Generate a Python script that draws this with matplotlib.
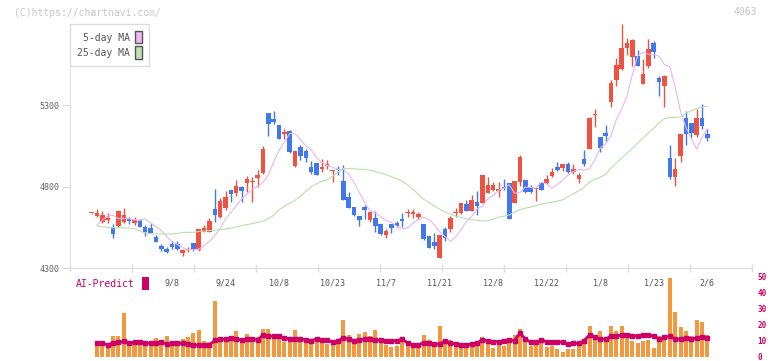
import matplotlib
matplotlib.use("Agg")
import matplotlib.pyplot as plt
from matplotlib.patches import Patch
import numpy as np

# daily candles, oldest first (last one is 2/6)
opens = np.array([
    4636, 4621, 4584, 4594, 4547, 4560, 4584, 4601, 4578, 4594,
    4553, 4543, 4492, 4435, 4417, 4447, 4447, 4394, 4410, 4451,
    4410, 4523, 4523, 4662, 4615, 4667, 4779, 4758, 4795, 4823,
    4826, 4854, 4881, 5255, 5214, 5177, 5126, 5140, 4928, 5046,
    5021, 4922, 4947, 4906, 4928, 4897, 4911, 4834, 4739, 4678,
    4621, 4672, 4594, 4605, 4570, 4502, 4568, 4578, 4601, 4640,
    4635, 4616, 4570, 4494, 4459, 4363, 4539, 4541, 4636, 4636,
    4691, 4652, 4707, 4697, 4762, 4779, 4775, 4795, 4823, 4701,
    4829, 4840, 4799, 4783, 4823, 4820, 4864, 4918, 4916, 4942,
    4892, 4850, 4973, 5034, 5239, 5107, 5132, 5322, 5453, 5521,
    5654, 5597, 5601, 5429, 5542, 5685, 5469, 5418, 4977, 4860,
    4989, 5222, 5194, 5120, 5222, 5122])
highs = np.array([
    4640, 4660, 4650, 4636, 4568, 4656, 4666, 4615, 4611, 4601,
    4564, 4574, 4502, 4447, 4427, 4466, 4466, 4417, 4431, 4451,
    4539, 4564, 4605, 4785, 4728, 4776, 4779, 4840, 4803, 4864,
    4860, 4905, 5048, 5255, 5263, 5181, 5153, 5147, 5021, 5055,
    5029, 4956, 4947, 4973, 4962, 4901, 4926, 4932, 4768, 4678,
    4621, 4687, 4646, 4650, 4570, 4539, 4568, 4590, 4639, 4660,
    4660, 4646, 4570, 4496, 4513, 4502, 4553, 4618, 4666, 4697,
    4717, 4748, 4774, 4870, 4860, 4829, 4826, 4850, 4823, 4834,
    4993, 4840, 4809, 4789, 4823, 4870, 4915, 4949, 4942, 4949,
    4942, 4885, 5024, 5229, 5280, 5107, 5181, 5453, 5588, 5797,
    5716, 5705, 5642, 5582, 5705, 5693, 5478, 5484, 5055, 4977,
    5126, 5263, 5194, 5280, 5306, 5157])
lows = np.array([
    4632, 4616, 4574, 4574, 4486, 4554, 4574, 4570, 4564, 4550,
    4498, 4513, 4458, 4406, 4394, 4418, 4410, 4375, 4398, 4406,
    4406, 4519, 4519, 4584, 4605, 4656, 4707, 4744, 4707, 4768,
    4707, 4799, 4877, 5112, 5183, 5090, 5096, 5004, 4922, 4963,
    4953, 4877, 4871, 4892, 4907, 4829, 4871, 4717, 4667, 4621,
    4558, 4601, 4584, 4523, 4502, 4486, 4517, 4550, 4553, 4615,
    4605, 4601, 4472, 4422, 4415, 4363, 4466, 4523, 4615, 4631,
    4648, 4648, 4625, 4697, 4758, 4774, 4734, 4779, 4601, 4697,
    4803, 4763, 4763, 4714, 4779, 4815, 4860, 4897, 4897, 4881,
    4877, 4823, 4928, 5030, 5167, 5011, 5082, 5291, 5420, 5519,
    5611, 5542, 5542, 5429, 5530, 5591, 5357, 5291, 4846, 4805,
    4952, 5055, 5099, 5107, 5153, 5082])
closes = np.array([
    4636, 4639, 4625, 4608, 4506, 4650, 4625, 4590, 4594, 4553,
    4523, 4517, 4462, 4417, 4398, 4429, 4417, 4410, 4411, 4410,
    4539, 4547, 4588, 4625, 4711, 4734, 4754, 4803, 4774, 4850,
    4834, 4870, 5030, 5183, 5198, 5090, 5136, 5014, 5021, 4990,
    4975, 4892, 4871, 4922, 4938, 4901, 4901, 4721, 4671, 4625,
    4594, 4656, 4646, 4558, 4507, 4529, 4547, 4558, 4588, 4646,
    4644, 4631, 4476, 4426, 4435, 4502, 4486, 4606, 4646, 4697,
    4652, 4721, 4683, 4870, 4809, 4809, 4785, 4789, 4601, 4834,
    4983, 4770, 4765, 4789, 4779, 4846, 4889, 4901, 4942, 4892,
    4907, 4870, 4942, 5225, 5245, 5036, 5113, 5439, 5550, 5654,
    5685, 5699, 5542, 5491, 5648, 5627, 5443, 5478, 4860, 4907,
    5126, 5126, 5130, 5222, 5173, 5102])

# moving averages as drawn on the chart, from the 2nd candle on
ma5 = [
    4564, 4594, 4621, 4625, 4603, 4606, 4603, 4596, 4593, 4602,
    4577, 4555, 4530, 4494, 4463, 4445, 4425, 4414, 4413, 4415,
    4437, 4463, 4499, 4542, 4602, 4641, 4682, 4725, 4755, 4783,
    4803, 4826, 4872, 4953, 5023, 5074, 5127, 5124, 5092, 5050,
    5027, 4978, 4950, 4930, 4920, 4905, 4907, 4877, 4826, 4764,
    4702, 4653, 4638, 4616, 4592, 4579, 4557, 4540, 4546, 4574,
    4597, 4613, 4597, 4565, 4522, 4494, 4465, 4491, 4535, 4587,
    4617, 4664, 4680, 4725, 4747, 4778, 4791, 4812, 4759, 4764,
    4798, 4795, 4791, 4828, 4817, 4790, 4814, 4841, 4871, 4894,
    4906, 4902, 4911, 4967, 5038, 5064, 5112, 5212, 5277, 5358,
    5488, 5605, 5626, 5614, 5613, 5601, 5550, 5537, 5411, 5263,
    5163, 5099, 5030, 5102, 5155]
ma25 = [
    4559, 4553, 4550, 4547, 4547, 4547, 4545, 4542, 4527, 4515,
    4510, 4509, 4509, 4509, 4509, 4512, 4518, 4519, 4519, 4524,
    4527, 4530, 4533, 4536, 4540, 4545, 4553, 4561, 4567, 4573,
    4580, 4588, 4604, 4625, 4658, 4680, 4699, 4717, 4742, 4772,
    4799, 4817, 4832, 4842, 4864, 4889, 4910, 4912, 4910, 4907,
    4906, 4901, 4892, 4883, 4874, 4861, 4849, 4834, 4812, 4785,
    4754, 4723, 4702, 4680, 4662, 4644, 4631, 4619, 4610, 4602,
    4598, 4593, 4588, 4591, 4601, 4613, 4619, 4625, 4644, 4659,
    4668, 4674, 4683, 4693, 4699, 4705, 4711, 4720, 4739, 4757,
    4775, 4797, 4828, 4846, 4858, 4877, 4914, 4944, 4975, 5006,
    5036, 5067, 5098, 5131, 5159, 5193, 5217, 5226, 5226, 5229,
    5251, 5266, 5279, 5288, 5294]

# lower panel, from the 2nd candle on
volume = [
    8.1, 7.5, 7.5, 13.3, 13.3, 27.5, 8.1, 9.2, 7.5, 9.2,
    9.2, 11.9, 8.5, 13.3, 10.2, 7.5, 11.2, 12.7, 15.0, 16.9,
    10.2, 9.6, 35.0, 11.2, 12.7, 12.9, 16.5, 11.2, 14.4, 10.2,
    12.7, 17.5, 17.5, 14.4, 13.8, 9.6, 12.7, 16.9, 10.6, 8.8,
    9.2, 11.2, 10.2, 8.1, 8.1, 8.1, 23.1, 13.8, 10.8, 14.4,
    15.4, 13.3, 16.9, 10.2, 7.5, 6.0, 6.7, 10.2, 7.1, 8.1,
    7.5, 13.8, 10.6, 9.6, 19.2, 11.2, 10.6, 8.1, 7.1, 7.1,
    9.6, 10.2, 12.3, 10.6, 5.6, 9.2, 6.7, 11.7, 13.8, 17.5,
    10.6, 7.1, 7.5, 10.2, 6.0, 6.7, 5.0, 2.9, 5.0, 5.0,
    7.5, 10.2, 19.2, 13.8, 16.0, 10.6, 19.2, 16.0, 19.2, 11.7,
    10.2, 8.8, 10.2, 10.6, 5.4, 12.9, 12.9, 49.4, 28.3, 18.5,
    16.0, 12.9, 23.1, 22.1, 13.8]
ai_predict = [
    8.5, 8.5, 7.7, 8.8, 9.2, 9.8, 8.8, 9.2, 9.2, 8.8,
    8.5, 8.5, 9.2, 8.1, 8.5, 8.5, 8.5, 8.1, 7.7, 7.3,
    7.3, 7.3, 10.6, 11.2, 11.2, 11.9, 11.2, 10.6, 11.2, 11.2,
    10.6, 13.8, 13.3, 12.9, 12.9, 11.9, 11.2, 11.2, 11.2, 10.6,
    10.2, 11.2, 10.8, 10.6, 9.2, 10.2, 11.9, 11.2, 10.2, 10.8,
    11.2, 11.2, 10.6, 10.6, 10.2, 10.2, 10.2, 11.2, 8.8, 7.5,
    7.7, 8.8, 8.5, 8.1, 8.1, 9.8, 8.8, 8.1, 7.5, 7.5,
    8.1, 8.8, 10.6, 10.2, 9.6, 9.6, 10.2, 10.6, 10.2, 15.0,
    11.2, 9.2, 9.2, 10.6, 9.6, 9.6, 9.6, 9.2, 8.1, 8.5,
    8.5, 10.2, 13.8, 12.3, 11.2, 11.2, 12.9, 12.9, 14.0, 14.0,
    13.3, 12.9, 13.8, 13.8, 12.9, 11.2, 12.3, 12.9, 11.2, 11.2,
    11.7, 11.2, 11.9, 12.3, 11.9]

date_labels = ["9/8", "9/24", "10/8", "10/23", "11/7", "11/21",
               "12/8", "12/22", "1/8", "1/23", "2/6"]
date_index = [15, 25, 35, 45, 55, 65, 75, 85, 95, 105, 115]

RED = "#f05242"
BLUE = "#4178ec"
MONO = "DejaVu Sans Mono"
xlim = (-4.05, 123.35)

day = np.arange(len(closes))
later = day[1:]
colors = np.where(closes >= opens, RED, BLUE)
body_low = np.minimum(opens, closes)
body_height = np.maximum(np.abs(closes - opens), 6)

fig = plt.figure(figsize=(7.72, 3.61), dpi=100)

# volume / AI-Predict panel (added first so the price panel's labels sit on top)
ax2 = fig.add_axes([70 / 772, 4 / 361, 682 / 772, 80 / 361])
ax2.patch.set_visible(False)
ax2.bar(later, volume, width=0.75, color="#f2983e", linewidth=0)
ax2.plot(later, ai_predict, color="#cc0066", linewidth=2, marker="s",
         markersize=2.5)
ax2.set_xlim(*xlim)
ax2.set_ylim(0, 50)
ax2.set_xticks([])
ax2.yaxis.tick_right()
ax2.set_yticks([0, 10, 20, 30, 40, 50])
ax2.tick_params(axis="y", length=0, pad=4, labelsize=5.5, labelcolor="#cc0066")
for label in ax2.get_yticklabels():
    label.set_family(MONO)
    label.set_weight("bold")
for spine in ax2.spines.values():
    spine.set_visible(False)

ai_legend = ax2.legend(handles=[Patch(facecolor="#cc0066", label="AI-Predict")],
                       loc="upper left", bbox_to_anchor=(76 / 772, 1 - 277 / 361),
                       bbox_transform=fig.transFigure, borderaxespad=0,
                       borderpad=0, markerfirst=False, frameon=False,
                       prop={"family": MONO, "size": 7},
                       handlelength=0.7, handleheight=1.65, handletextpad=0.75)
ai_legend.get_texts()[0].set_color("#cc0066")

# price panel
ax = fig.add_axes([70 / 772, 93 / 361, 682 / 772, 244 / 361])
ax.patch.set_visible(False)
ax.vlines(day, lows, highs, colors=colors, linewidth=1)
ax.bar(day, body_height, bottom=body_low, width=0.85, color=colors, linewidth=0)
ax.plot(later, ma5, color="#eab6ef", linewidth=0.8)
ax.plot(later, ma25, color="#badfab", linewidth=0.8)

ax.set_xlim(*xlim)
ax.set_ylim(4300, 5800)
ax.set_yticks([4300, 4800, 5300])
ax.set_xticks(np.linspace(xlim[0], xlim[1], 12))
ax.set_xticklabels([])
ax.set_xticks(date_index, date_labels, minor=True)
ax.tick_params(axis="y", length=5.8, width=1, color="#dddddd", pad=2,
               labelsize=6, labelcolor="#666666")
ax.tick_params(axis="x", which="major", direction="inout", length=5.8,
               width=1, color="#dddddd")
ax.tick_params(axis="x", which="minor", length=0, pad=7.5, labelsize=6,
               labelcolor="#555555")
for label in ax.get_xticklabels(minor=True) + ax.get_yticklabels():
    label.set_family(MONO)
for side in ["top", "right"]:
    ax.spines[side].set_visible(False)
for side in ["left", "bottom"]:
    ax.spines[side].set_color("#dddddd")

handles = [
    Patch(facecolor="#f0b8f0", edgecolor="#555555", label="5-day MA"),
    Patch(facecolor="#c0e0b0", edgecolor="#555555", label="25-day MA"),
]
legend = ax.legend(handles=handles, loc="upper left", bbox_to_anchor=(0, 1),
                   borderaxespad=0, markerfirst=False, fancybox=False,
                   edgecolor="#dddddd", framealpha=1,
                   prop={"family": MONO, "size": 7},
                   handlelength=0.7, handleheight=1.55, handletextpad=0.5,
                   borderpad=0.75, labelspacing=0.3)
for text in legend.get_texts():
    text.set_color("#555555")

fig.text(14 / 772, 1 - 12.5 / 361, "(C)https://chartnavi.com/", family=MONO,
         fontsize=7, color="#c8c8c8", va="center")
fig.text(757 / 772, 1 - 12 / 361, "4063", family=MONO, fontsize=7,
         color="#c4c4c4", va="center", ha="right")

fig.savefig("out.png", dpi=100)
